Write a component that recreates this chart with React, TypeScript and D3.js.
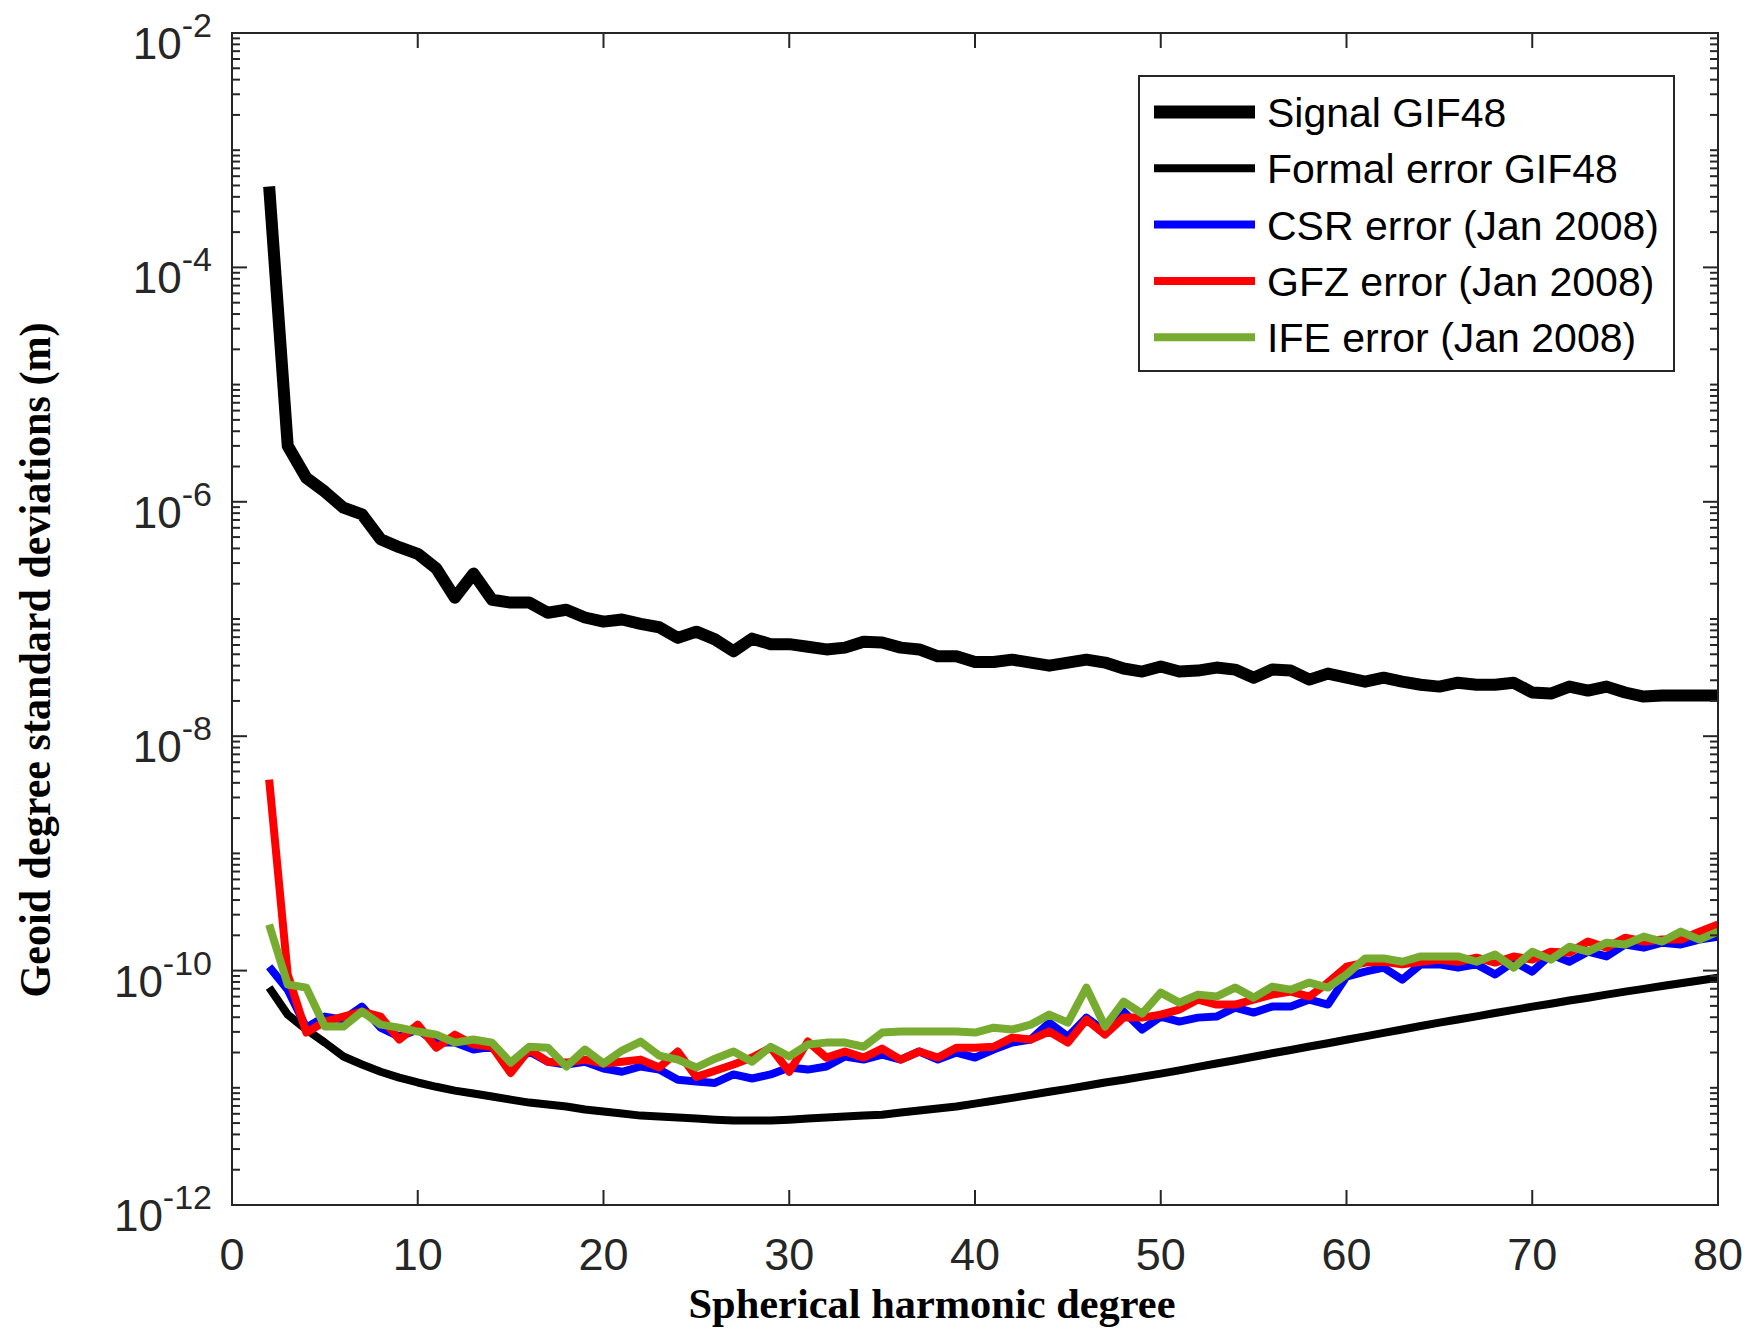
import React from 'react';
import * as d3 from 'd3';

const degrees: number[] = d3.range(2, 81);

const signalGIF48 = [
  4.9e-4, 3.0e-6, 1.6e-6, 1.22e-6, 8.9e-7, 7.8e-7, 4.8e-7, 4.1e-7, 3.6e-7, 2.7e-7,
  1.52e-7, 2.44e-7, 1.46e-7, 1.38e-7, 1.38e-7, 1.13e-7, 1.2e-7, 1.03e-7, 9.5e-8, 9.9e-8,
  9.1e-8, 8.5e-8, 6.9e-8, 7.8e-8, 6.7e-8, 5.3e-8, 6.8e-8, 6.1e-8, 6.1e-8, 5.8e-8,
  5.5e-8, 5.7e-8, 6.4e-8, 6.3e-8, 5.7e-8, 5.5e-8, 4.8e-8, 4.8e-8, 4.3e-8, 4.3e-8,
  4.5e-8, 4.25e-8, 4.0e-8, 4.25e-8, 4.5e-8, 4.25e-8, 3.78e-8, 3.56e-8, 3.93e-8, 3.56e-8,
  3.63e-8, 3.85e-8, 3.7e-8, 3.16e-8, 3.7e-8, 3.63e-8, 3.04e-8, 3.42e-8, 3.16e-8, 2.92e-8,
  3.16e-8, 2.92e-8, 2.75e-8, 2.65e-8, 2.86e-8, 2.75e-8, 2.75e-8, 2.86e-8, 2.36e-8, 2.31e-8,
  2.65e-8, 2.45e-8, 2.65e-8, 2.36e-8, 2.18e-8, 2.22e-8, 2.22e-8, 2.22e-8, 2.22e-8,
];

const formalErrorGIF48 = [
  7.16e-11, 4.21e-11, 3.14e-11, 2.43e-11, 1.85e-11, 1.58e-11, 1.37e-11, 1.22e-11, 1.11e-11, 1.02e-11,
  9.46e-12, 8.93e-12, 8.42e-12, 7.93e-12, 7.48e-12, 7.19e-12, 6.92e-12, 6.52e-12, 6.27e-12,
  6.03e-12, 5.79e-12, 5.68e-12, 5.57e-12, 5.46e-12, 5.35e-12, 5.25e-12, 5.25e-12, 5.25e-12, 5.35e-12,
  5.46e-12, 5.57e-12, 5.68e-12, 5.79e-12, 5.9e-12, 6.15e-12, 6.4e-12, 6.65e-12, 6.92e-12, 7.33e-12,
  7.76e-12, 8.2e-12, 8.7e-12, 9.25e-12, 9.8e-12, 1.04e-11, 1.11e-11, 1.17e-11, 1.245e-11, 1.32e-11,
  1.41e-11, 1.51e-11, 1.61e-11, 1.72e-11, 1.84e-11, 1.97e-11, 2.10e-11, 2.25e-11, 2.40e-11, 2.57e-11,
  2.75e-11, 2.94e-11, 3.14e-11, 3.37e-11, 3.60e-11, 3.83e-11, 4.07e-11, 4.35e-11, 4.62e-11, 4.93e-11,
  5.22e-11, 5.55e-11, 5.87e-11, 6.24e-11, 6.61e-11, 6.98e-11, 7.38e-11, 7.80e-11, 8.24e-11, 8.71e-11,
];

const csrError = [
  1.08e-10, 0.688e-10, 0.326e-10, 0.405e-10, 0.382e-10, 0.493e-10, 0.326e-10, 0.273e-10, 0.314e-10, 0.243e-10,
  0.243e-10, 0.212e-10, 0.224e-10, 0.149e-10, 0.204e-10, 0.167e-10, 0.158e-10, 0.167e-10, 0.146e-10, 0.137e-10,
  0.152e-10, 0.143e-10, 0.117e-10, 0.113e-10, 0.110e-10, 0.130e-10, 0.120e-10, 0.130e-10, 0.149e-10, 0.143e-10,
  0.152e-10, 0.185e-10, 0.174e-10, 0.192e-10, 0.174e-10, 0.204e-10, 0.174e-10, 0.200e-10, 0.181e-10, 0.212e-10,
  0.243e-10, 0.258e-10, 0.360e-10, 0.273e-10, 0.397e-10, 0.302e-10, 0.447e-10, 0.314e-10, 0.405e-10, 0.367e-10,
  0.397e-10, 0.405e-10, 0.483e-10, 0.438e-10, 0.493e-10, 0.493e-10, 0.566e-10, 0.513e-10, 0.889e-10, 0.98e-10,
  1.06e-10, 0.838e-10, 1.13e-10, 1.13e-10, 1.06e-10, 1.13e-10, 0.925e-10, 1.19e-10, 0.98e-10, 1.37e-10,
  1.19e-10, 1.45e-10, 1.32e-10, 1.67e-10, 1.57e-10, 1.73e-10, 1.67e-10, 1.84e-10, 1.95e-10,
];

const gfzError = [
  42.6e-10, 0.925e-10, 0.296e-10, 0.367e-10, 0.405e-10, 0.447e-10, 0.405e-10, 0.258e-10, 0.346e-10, 0.220e-10,
  0.284e-10, 0.234e-10, 0.224e-10, 0.134e-10, 0.212e-10, 0.167e-10, 0.164e-10, 0.174e-10, 0.161e-10, 0.167e-10,
  0.174e-10, 0.149e-10, 0.204e-10, 0.124e-10, 0.140e-10, 0.158e-10, 0.181e-10, 0.220e-10, 0.137e-10, 0.248e-10,
  0.181e-10, 0.204e-10, 0.181e-10, 0.216e-10, 0.174e-10, 0.204e-10, 0.181e-10, 0.220e-10, 0.220e-10, 0.224e-10,
  0.268e-10, 0.258e-10, 0.302e-10, 0.243e-10, 0.382e-10, 0.284e-10, 0.397e-10, 0.397e-10, 0.421e-10, 0.465e-10,
  0.566e-10, 0.513e-10, 0.513e-10, 0.566e-10, 0.624e-10, 0.662e-10, 0.600e-10, 0.790e-10, 1.08e-10, 1.17e-10,
  1.19e-10, 1.13e-10, 1.19e-10, 1.24e-10, 1.19e-10, 1.29e-10, 1.17e-10, 1.32e-10, 1.24e-10, 1.45e-10,
  1.42e-10, 1.77e-10, 1.57e-10, 1.91e-10, 1.77e-10, 1.84e-10, 1.84e-10, 2.15e-10, 2.47e-10,
];

const ifeError = [
  2.47e-10, 0.760e-10, 0.716e-10, 0.333e-10, 0.333e-10, 0.447e-10, 0.346e-10, 0.326e-10, 0.302e-10, 0.284e-10,
  0.243e-10, 0.258e-10, 0.243e-10, 0.164e-10, 0.224e-10, 0.220e-10, 0.152e-10, 0.212e-10, 0.161e-10, 0.208e-10,
  0.248e-10, 0.188e-10, 0.174e-10, 0.149e-10, 0.177e-10, 0.204e-10, 0.167e-10, 0.224e-10, 0.185e-10, 0.234e-10,
  0.243e-10, 0.243e-10, 0.224e-10, 0.296e-10, 0.302e-10, 0.302e-10, 0.302e-10, 0.302e-10, 0.296e-10, 0.326e-10,
  0.314e-10, 0.346e-10, 0.421e-10, 0.360e-10, 0.716e-10, 0.333e-10, 0.544e-10, 0.430e-10, 0.649e-10, 0.533e-10,
  0.624e-10, 0.600e-10, 0.716e-10, 0.588e-10, 0.730e-10, 0.688e-10, 0.790e-10, 0.716e-10, 0.925e-10, 1.27e-10,
  1.27e-10, 1.19e-10, 1.32e-10, 1.32e-10, 1.32e-10, 1.19e-10, 1.37e-10, 1.06e-10, 1.45e-10, 1.24e-10,
  1.60e-10, 1.45e-10, 1.73e-10, 1.67e-10, 1.95e-10, 1.77e-10, 2.15e-10, 1.84e-10, 2.15e-10,
];

const seriesNames = [
  'Signal GIF48',
  'Formal error GIF48',
  'CSR error (Jan 2008)',
  'GFZ error (Jan 2008)',
  'IFE error (Jan 2008)',
];
const seriesColors = ['#000000', '#000000', '#0000ff', '#ff0000', '#77ac30'];
const seriesWidths = [12, 8, 8, 8, 8];
const legendWidths = [13, 8, 8, 8, 8];

const xTicks = [0, 10, 20, 30, 40, 50, 60, 70, 80];
const yMajorExponents = [-12, -10, -8, -6, -4, -2];

export default function App() {
  const W = 1748;
  const H = 1333;
  const L = 232, R = 1718, T = 33, B = 1205;
  const axisColor = '#262626';

  const x = d3.scaleLinear().domain([0, 80]).range([L, R]);
  const y = d3.scaleLog().domain([1e-12, 1e-2]).range([B, T]);

  const allSeries = [signalGIF48, formalErrorGIF48, csrError, gfzError, ifeError];
  const lineGen = d3
    .line<number>()
    .x((_, i) => x(degrees[i]))
    .y((v) => y(v));

  const yMinor: { v: number; major: boolean }[] = [];
  for (let e = -12; e <= -3; e++) {
    for (let k = 1; k <= 9; k++) {
      const v = k * Math.pow(10, e);
      yMinor.push({ v, major: k === 1 && e % 2 === 0 });
    }
  }
  yMinor.push({ v: 1e-2, major: true });

  const legendX0 = 1139, legendY0 = 76, legendW = 535, legendH = 295;
  const rowY = (i: number) => 112 + i * 56.3;

  return (
    <svg
      width={W}
      height={H}
      style={{ position: 'absolute', left: 0, top: 0, background: '#fff' }}
      fontFamily="'Liberation Sans', Arial, Helvetica, sans-serif"
    >
      <rect x={0} y={0} width={W} height={H} fill="#fff" />
      <defs>
        <clipPath id="plotclip">
          <rect x={L} y={T} width={R - L} height={B - T} />
        </clipPath>
      </defs>

      {/* data lines */}
      <g clipPath="url(#plotclip)">
        {allSeries.map((s, i) => (
          <path
            key={i}
            d={lineGen(s) || ''}
            fill="none"
            stroke={seriesColors[i]}
            strokeWidth={seriesWidths[i]}
            strokeLinejoin="round"
            strokeLinecap="butt"
          />
        ))}
      </g>

      {/* axes box */}
      <rect x={L} y={T} width={R - L} height={B - T} fill="none" stroke={axisColor} strokeWidth={2} />

      {/* x ticks */}
      {xTicks.map((t) => (
        <g key={'xt' + t}>
          <line x1={x(t)} x2={x(t)} y1={B} y2={B - 15} stroke={axisColor} strokeWidth={2} />
          <line x1={x(t)} x2={x(t)} y1={T} y2={T + 15} stroke={axisColor} strokeWidth={2} />
          <text x={x(t)} y={1270} textAnchor="middle" fontSize={45} fill={axisColor}>
            {t}
          </text>
        </g>
      ))}

      {/* y ticks */}
      {yMinor.map((t, i) => {
        const len = t.major ? 15 : 8;
        const yy = y(t.v);
        return (
          <g key={'yt' + i}>
            <line x1={L} x2={L + len} y1={yy} y2={yy} stroke={axisColor} strokeWidth={2} />
            <line x1={R} x2={R - len} y1={yy} y2={yy} stroke={axisColor} strokeWidth={2} />
          </g>
        );
      })}
      {yMajorExponents.map((e) => (
        <text key={'yl' + e} x={212} y={y(Math.pow(10, e)) + 26} textAnchor="end" fontSize={44} fill={axisColor}>
          10
          <tspan dy={-22} fontSize={34}>
            {String(e)}
          </tspan>
        </text>
      ))}

      {/* axis labels */}
      <text
        x={932}
        y={1318}
        textAnchor="middle"
        fontFamily="'Liberation Serif', 'DejaVu Serif', serif"
        fontWeight="bold"
        fontSize={42}
        textLength={487}
        lengthAdjust="spacingAndGlyphs"
        fill="#000"
      >
        Spherical harmonic degree
      </text>
      <text
        transform={`translate(50,660) rotate(-90)`}
        textAnchor="middle"
        fontFamily="'Liberation Serif', 'DejaVu Serif', serif"
        fontWeight="bold"
        fontSize={44}
        textLength={675}
        lengthAdjust="spacingAndGlyphs"
        fill="#000"
      >
        Geoid degree standard deviations (m)
      </text>

      {/* legend */}
      <rect x={legendX0} y={legendY0} width={legendW} height={legendH} fill="#fff" stroke={axisColor} strokeWidth={2} />
      {seriesNames.map((name, i) => (
        <g key={'lg' + i}>
          <line
            x1={1154}
            x2={1255}
            y1={rowY(i)}
            y2={rowY(i)}
            stroke={seriesColors[i]}
            strokeWidth={legendWidths[i]}
          />
          <text x={1267} y={rowY(i) + 15} fontSize={41} fill="#000">
            {name}
          </text>
        </g>
      ))}
    </svg>
  );
}
